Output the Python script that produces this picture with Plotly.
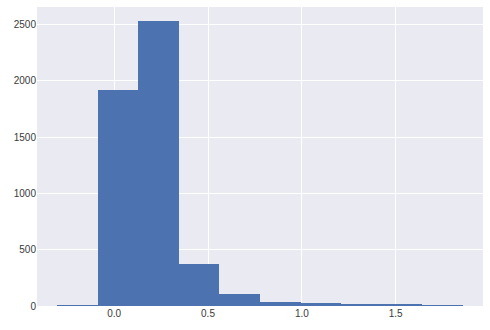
import plotly.graph_objects as go

bin_edges = [-0.303, -0.087, 0.129, 0.345, 0.561, 0.777, 0.993, 1.209, 1.425, 1.641, 1.857]
counts = [8, 1916, 2529, 370, 104, 36, 27, 18, 9, 6]
x_ticks = [0.0, 0.5, 1.0, 1.5]
x_tick_labels = ["0.0", "0.5", "1.0", "1.5"]
y_ticks = [0, 500, 1000, 1500, 2000, 2500]

centers = [(bin_edges[i] + bin_edges[i + 1]) / 2 for i in range(len(counts))]
widths = [bin_edges[i + 1] - bin_edges[i] for i in range(len(counts))]

fig = go.Figure(go.Bar(
    x=centers, y=counts, width=widths,
    marker=dict(color="#4C72B0", line=dict(width=0)),
))

span = bin_edges[-1] - bin_edges[0]
fig.update_layout(
    width=490, height=330,
    margin=dict(l=37, r=7, t=7, b=24),
    paper_bgcolor="white", plot_bgcolor="#EAEAF2",
    font=dict(family="Liberation Sans, Arial, sans-serif", size=10, color="#3a3a3a"),
    showlegend=False, bargap=0,
)
fig.update_xaxes(
    range=[bin_edges[0] - 0.05 * span, bin_edges[-1] + 0.05 * span],
    tickvals=x_ticks, ticktext=x_tick_labels,
    showgrid=True, gridcolor="white", gridwidth=1,
    zeroline=False, showline=False, ticks="", ticklen=0,
)
fig.update_yaxes(
    range=[0, max(counts) * 1.05],
    tickvals=y_ticks,
    showgrid=True, gridcolor="white", gridwidth=1,
    zeroline=False, showline=False, ticks="",
)
fig.write_html("out.html")
